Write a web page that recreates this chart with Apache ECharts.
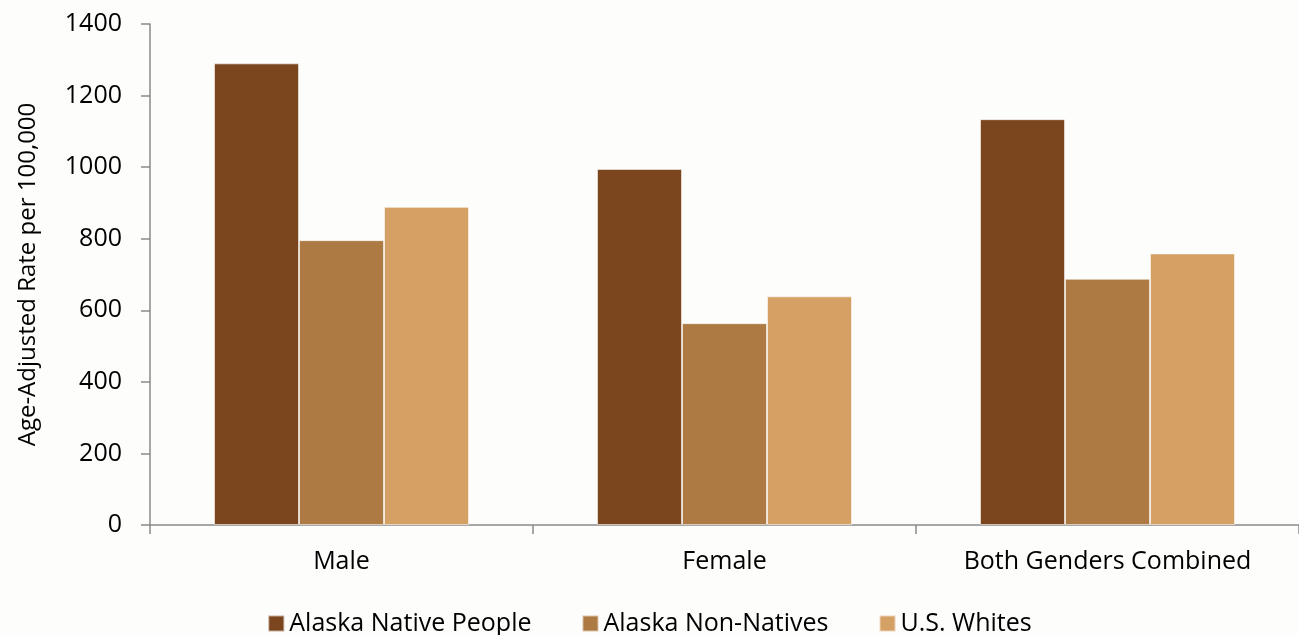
<!DOCTYPE html>
<html>
<head>
<meta charset="utf-8">
<script src="https://cdn.jsdelivr.net/npm/echarts@6/dist/echarts.min.js"></script>
<style>
  html, body { margin: 0; padding: 0; background: #fdfdfc; }
  #main { width: 1299px; height: 635px; }
</style>
</head>
<body>
<div id="main"></div>
<script>
var categories = ['Male', 'Female', 'Both Genders Combined'];
var seriesNames = ['Alaska Native People', 'Alaska Non-Natives', 'U.S. Whites'];
var nativeRates = [1290, 995, 1134];
var nonNativeRates = [796, 564, 688];
var usWhiteRates = [889, 639, 759];
var colors = ['#7b461e', '#ac7a42', '#d4a064'];

var font = '"Open Sans", sans-serif';
var myChart = echarts.init(document.getElementById('main'));

function barSeries(name, data, color) {
    return {
        name: name,
        type: 'bar',
        data: data,
        barWidth: 85,
        barGap: '0%',
        itemStyle: {
            color: color,
            borderColor: 'rgba(255,255,255,0.55)',
            borderWidth: 1
        }
    };
}

var option = {
    backgroundColor: '#fdfdfc',
    animation: false,
    textStyle: { fontFamily: font },
    grid: {
        left: 150,
        top: 24,
        width: 1154,
        height: 501
    },
    legend: {
        top: 606,
        left: 'center',
        itemWidth: 16,
        itemHeight: 16,
        itemGap: 50,
        icon: 'rect',
        textStyle: { fontSize: 25, color: '#000', fontFamily: font },
        data: seriesNames
    },
    xAxis: {
        type: 'category',
        data: categories,
        axisLine: { lineStyle: { color: '#8a8a8a', width: 1.5 } },
        axisTick: { show: true, length: 9, lineStyle: { color: '#8a8a8a', width: 1.5 } },
        axisLabel: { color: '#000', fontSize: 25, margin: 24, fontFamily: font }
    },
    yAxis: {
        type: 'value',
        min: 0,
        max: 1400,
        interval: 200,
        name: 'Age-Adjusted Rate per 100,000',
        nameLocation: 'middle',
        nameGap: 110,
        nameTextStyle: { color: '#000', fontSize: 24, fontFamily: font },
        axisLine: { show: true, lineStyle: { color: '#8a8a8a', width: 1.5 } },
        axisTick: { show: true, length: 9, lineStyle: { color: '#8a8a8a', width: 1.5 } },
        splitLine: { show: false },
        axisLabel: {
            color: '#000',
            fontSize: 25,
            margin: 28,
            fontFamily: font,
            formatter: function (v) { return String(v); }
        }
    },
    series: [
        barSeries(seriesNames[0], nativeRates, colors[0]),
        barSeries(seriesNames[1], nonNativeRates, colors[1]),
        barSeries(seriesNames[2], usWhiteRates, colors[2])
    ]
};
myChart.setOption(option);
</script>
</body>
</html>
